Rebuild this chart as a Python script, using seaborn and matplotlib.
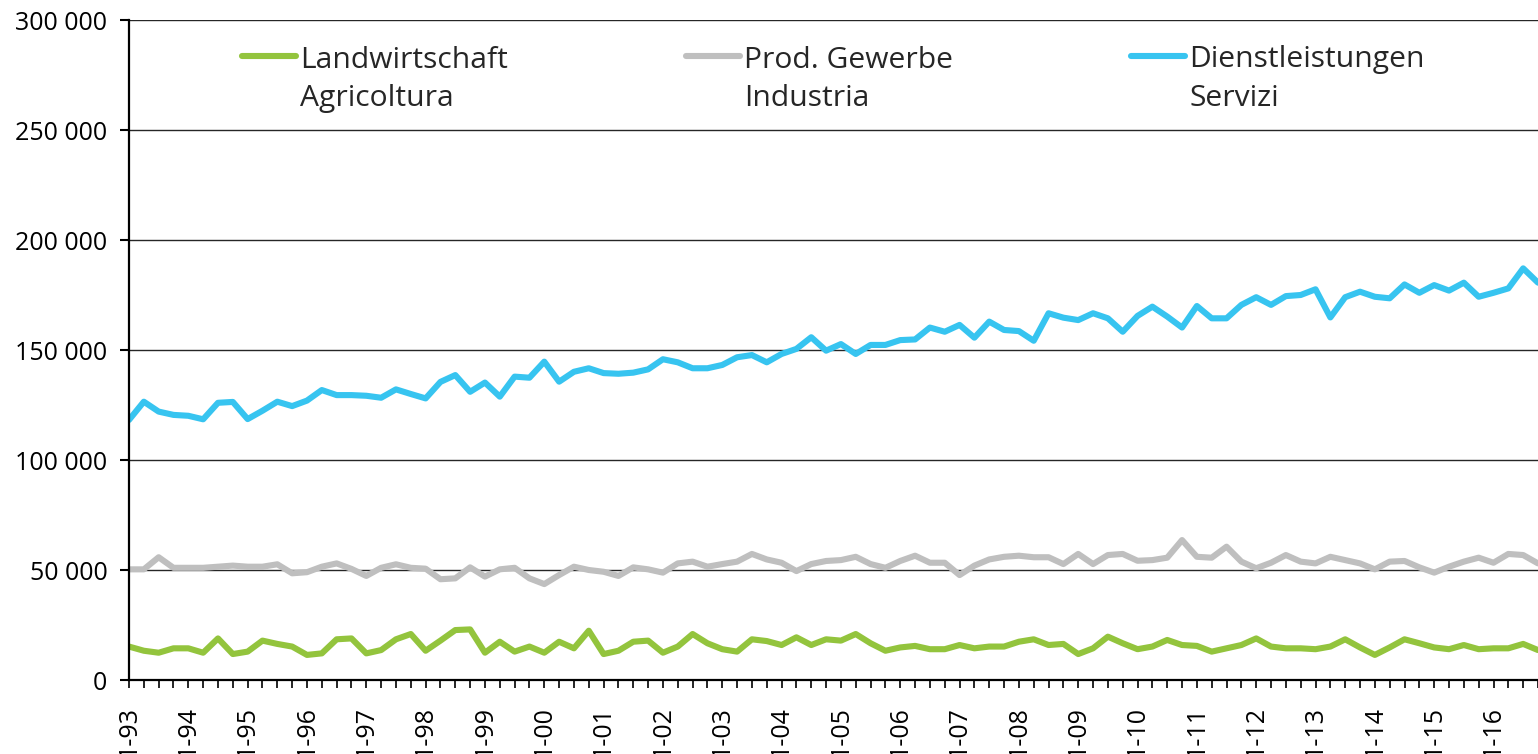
import numpy as np
import pandas as pd
import matplotlib
matplotlib.use("Agg")
import matplotlib.pyplot as plt
from matplotlib.ticker import FuncFormatter
from matplotlib.legend_handler import HandlerLine2D
from matplotlib.lines import Line2D
import seaborn as sns

# ---------------- data ----------------
years = list(range(1993, 2017))
quarters = [f"{q}-{y % 100:02d}" for y in years for q in (1, 2, 3, 4)]
tick_labels = [c if c.startswith("1-") else "" for c in quarters]

landwirtschaft = [
    15.2, 13.3, 12.4, 14.4, 14.4, 12.4, 18.9, 11.8,
    12.9, 17.9, 16.4, 15.2, 11.4, 12.1, 18.5, 18.9,
    12.1, 13.6, 18.5, 20.9, 13.3, 17.9, 22.7, 23.0,
    12.4, 17.4, 12.9, 15.2, 12.4, 17.4, 14.4, 22.4,
    11.8, 13.3, 17.4, 17.9, 12.4, 15.2, 20.9, 16.7,
    14.0, 12.9, 18.5, 17.7, 15.9, 19.4, 15.9, 18.5,
    17.9, 20.9, 16.7, 13.3, 14.8, 15.5, 14.0, 14.0,
    15.9, 14.4, 15.2, 15.2, 17.4, 18.5, 15.9, 16.4,
    11.8, 14.4, 19.7, 16.7, 14.0, 15.2, 18.2, 15.9,
    15.5, 12.9, 14.4, 15.9, 18.9, 15.2, 14.4, 14.4,
    14.0, 15.2, 18.5, 14.8, 11.4, 14.8, 18.5, 16.7,
    14.8, 14.0, 15.9, 14.0, 14.4, 14.4, 16.4, 13.6,
]
industria = [
    50.3, 50.3, 55.8, 51.0, 51.0, 51.0, 51.5, 52.0,
    51.5, 51.5, 52.6, 48.5, 49.0, 51.5, 53.0, 50.5,
    47.3, 51.0, 52.6, 51.0, 50.6, 45.8, 46.2, 51.2,
    47.0, 50.3, 51.0, 46.2, 43.6, 47.7, 51.5, 50.0,
    49.2, 47.3, 51.2, 50.3, 48.8, 53.0, 53.8, 51.5,
    52.7, 53.8, 57.3, 54.8, 53.3, 49.5, 52.7, 54.1,
    54.5, 56.0, 52.7, 51.0, 54.1, 56.5, 53.3, 53.3,
    47.7, 52.0, 54.8, 56.0, 56.5, 55.8, 55.8, 52.7,
    57.3, 52.7, 56.8, 57.3, 54.2, 54.5, 55.6, 63.6,
    56.0, 55.6, 60.6, 53.8, 50.8, 53.3, 56.8, 53.8,
    53.0, 56.0, 54.5, 53.0, 50.3, 53.8, 54.1, 51.2,
    48.8, 51.5, 53.8, 55.6, 53.3, 57.3, 56.8, 53.0,
]
servizi = [
    118.2, 126.5, 122.0, 120.5, 120.1, 118.5, 126.0, 126.4,
    118.6, 122.4, 126.5, 124.5, 127.0, 131.8, 129.5, 129.5,
    129.2, 128.3, 132.1, 130.0, 128.0, 135.5, 138.6, 131.0,
    135.2, 128.8, 137.9, 137.4, 144.7, 135.6, 140.1, 141.7,
    139.5, 139.2, 139.7, 141.2, 145.8, 144.4, 141.7, 141.7,
    143.2, 146.7, 147.7, 144.4, 148.2, 150.5, 155.8, 149.7,
    152.7, 148.2, 152.3, 152.3, 154.5, 154.8, 160.2, 158.3,
    161.4, 155.6, 162.9, 159.1, 158.6, 154.2, 166.7, 164.7,
    163.6, 166.7, 164.4, 158.3, 165.5, 169.7, 165.2, 160.2,
    170.0, 164.4, 164.4, 170.5, 174.0, 170.5, 174.5, 175.0,
    177.6, 164.8, 174.0, 176.5, 174.2, 173.5, 179.8, 176.0,
    179.5, 177.0, 180.6, 174.2, 176.0, 178.0, 187.1, 180.6,
]

series_names = ["Landwirtschaft\nAgricoltura", "Prod. Gewerbe\nIndustria",
                "Dienstleistungen\nServizi"]
series_values = [landwirtschaft, industria, servizi]
series_colors = ["#93C43D", "#BFBFBF", "#37C4F0"]

# ---------------- build table ----------------
rows = []
for name, vals in zip(series_names, series_values):
    for i, (q, v) in enumerate(zip(quarters, vals)):
        rows.append({"pos": i, "quarter": q, "value": v * 1000, "series": name})
df = pd.DataFrame(rows)

# ---------------- style ----------------
sns.set_style("white")
plt.rcParams["font.family"] = ["Open Sans", "DejaVu Sans"]

W, H = 1538, 754
fig = plt.figure(figsize=(W / 100, H / 100), dpi=100)
ax = fig.add_axes([129 / W, 1 - 680 / H, (W - 129) / W, 660 / H])

LW = 4.4
palette = dict(zip(series_names, series_colors))
sns.lineplot(data=df, x="pos", y="value", hue="series", palette=palette,
             hue_order=series_names, linewidth=LW, ax=ax, legend=False,
             sort=False)
for line in ax.get_lines():
    line.set_solid_joinstyle("round")
    line.set_solid_capstyle("round")

ax.set_xlim(0, len(quarters) - 1)
ax.set_ylim(0, 300000)
ax.set_yticks(np.arange(0, 300001, 50000))
ax.yaxis.set_major_formatter(FuncFormatter(lambda v, p: f"{int(v):,}".replace(",", " ")))
ax.set_xticks(range(len(quarters)))
ax.set_xticklabels(tick_labels, rotation=90)
ax.set_xlabel("")
ax.set_ylabel("")

ax.yaxis.grid(True, color="#262626", linewidth=1.0)
ax.xaxis.grid(False)
ax.set_axisbelow(True)
for s in ("top", "right"):
    ax.spines[s].set_visible(False)
for s in ("left", "bottom"):
    ax.spines[s].set_color("black")
    ax.spines[s].set_linewidth(1.6)

ax.tick_params(axis="y", direction="out", length=6.5, width=1.5, pad=9,
               labelsize=18, colors="black", left=True)
ax.tick_params(axis="x", direction="out", length=5.5, width=1.2, pad=13,
               labelsize=18, colors="black", bottom=True)


class RaisedLine(HandlerLine2D):
    def __init__(self, raise_pts, **kw):
        super().__init__(**kw)
        self.raise_pts = raise_pts

    def create_artists(self, legend, orig_handle, xdescent, ydescent, width,
                       height, fontsize, trans):
        arts = super().create_artists(legend, orig_handle, xdescent, ydescent,
                                      width, height, fontsize, trans)
        for a in arts:
            a.set_ydata(np.asarray(a.get_ydata(), dtype=float) + self.raise_pts)
        return arts


LEG_FS = 21.6
handles = [Line2D([], [], color=c, linewidth=LW, solid_capstyle="round")
           for c in series_colors]
leg = ax.legend(handles, series_names, loc="upper center",
                bbox_to_anchor=(0.5, 1.0), ncol=3, frameon=False,
                fontsize=LEG_FS, handlelength=1.8, handletextpad=0.12,
                columnspacing=5.95, borderaxespad=0.0, borderpad=0.85,
                handler_map={Line2D: RaisedLine(raise_pts=17)})
for t in leg.get_texts():
    t.set_linespacing(1.42)

fig.savefig("out.png", dpi=100)
